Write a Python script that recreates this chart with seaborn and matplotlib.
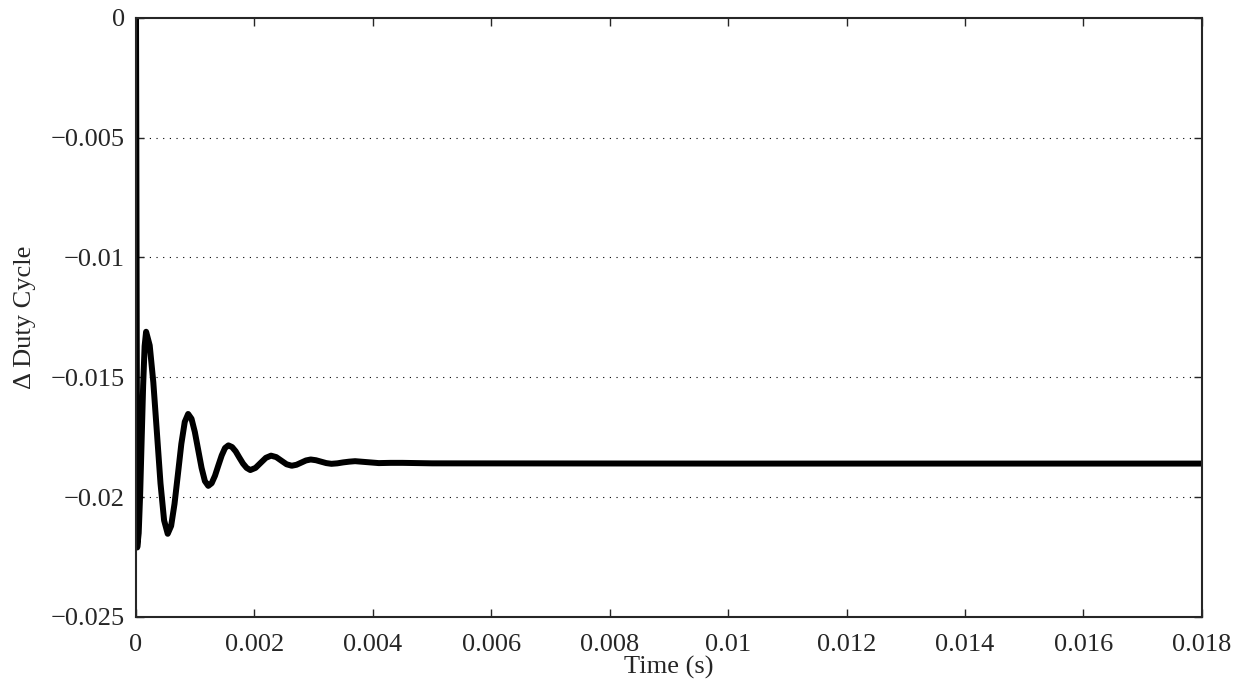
import matplotlib.pyplot as plt
import pandas as pd
import seaborn as sns

# values
time_s = [0.0, 0.00002, 0.000045, 0.00007, 0.000095, 0.00012, 0.000145, 0.00017,
          0.000231, 0.000292, 0.000353, 0.000413, 0.000474, 0.000535,
          0.000593, 0.00065, 0.000708, 0.000765, 0.000823, 0.00088,
          0.000937, 0.000993, 0.00105, 0.001107, 0.001163, 0.00122,
          0.001277, 0.001333, 0.00139, 0.001447, 0.001503, 0.00156,
          0.001622, 0.001683, 0.001745, 0.001807, 0.001868, 0.00193,
          0.002018, 0.002105, 0.002193, 0.00228,
          0.002368, 0.002455, 0.002543, 0.00263,
          0.00271, 0.00279, 0.00287, 0.00295,
          0.003038, 0.003125, 0.003213, 0.0033,
          0.0034, 0.0035, 0.0036, 0.0037,
          0.0039, 0.0041, 0.0043, 0.0045, 0.005, 0.01, 0.018]
duty = [0.0, -0.0221, -0.0215, -0.01985, -0.0176, -0.01535, -0.0137, -0.0131,
        -0.01367, -0.01521, -0.01732, -0.01942, -0.02097, -0.02153,
        -0.0212, -0.02028, -0.01903, -0.01778, -0.01686, -0.01653,
        -0.01673, -0.01728, -0.01803, -0.01878, -0.01933, -0.01953,
        -0.01942, -0.01911, -0.01868, -0.01826, -0.01795, -0.01784,
        -0.01791, -0.01809, -0.01835, -0.0186, -0.01878, -0.01887,
        -0.01878, -0.01857, -0.01836, -0.01827,
        -0.01833, -0.01848, -0.01863, -0.01869,
        -0.01865, -0.01856, -0.01847, -0.01843,
        -0.01846, -0.01852, -0.01858, -0.01861,
        -0.01859, -0.01855, -0.01852, -0.0185,
        -0.01854, -0.01858, -0.01857, -0.01857, -0.01859, -0.0186, -0.0186]

x_ticks = [0, 0.002, 0.004, 0.006, 0.008, 0.01, 0.012, 0.014, 0.016, 0.018]
x_ticklabels = ["0", "0.002", "0.004", "0.006", "0.008", "0.01", "0.012", "0.014", "0.016", "0.018"]
y_ticks = [0, -0.005, -0.01, -0.015, -0.02, -0.025]
y_ticklabels = ["0", "\u22120.005", "\u22120.01", "\u22120.015", "\u22120.02", "\u22120.025"]

df = pd.DataFrame({"t": time_s, "d": duty})

sns.set_style("ticks")
plt.rcParams['font.family'] = ['Liberation Serif', 'DejaVu Serif']

fig, ax = plt.subplots(figsize=(12.48, 6.84), dpi=100)
fig.subplots_adjust(left=0.109, right=0.963, top=0.974, bottom=0.098)

sns.lineplot(data=df, x="t", y="d", color="black", linewidth=4.3, ax=ax,
             solid_joinstyle="round")

ax.set_xlim(0, 0.018)
ax.set_ylim(-0.025, 0)
ax.set_xticks(x_ticks)
ax.set_xticklabels(x_ticklabels, fontsize=19)
ax.set_yticks(y_ticks)
ax.set_yticklabels(y_ticklabels, fontsize=19)
ax.tick_params(direction="in", top=True, right=True, length=6, width=1)
ax.tick_params(axis="x", pad=12)
ax.tick_params(axis="y", pad=8)

# dotted horizontal grid lines only
for yv in y_ticks[1:-1]:
    ax.axhline(yv, color="black", linestyle=(0, (1, 5)), linewidth=0.8, zorder=0)

for s in ax.spines.values():
    s.set_linewidth(1.5)

ax.set_xlabel("Time (s)", fontsize=19, labelpad=0)
ax.set_ylabel("\u0394 Duty Cycle", fontsize=19, labelpad=11)

fig.savefig("out.png", dpi=100)
